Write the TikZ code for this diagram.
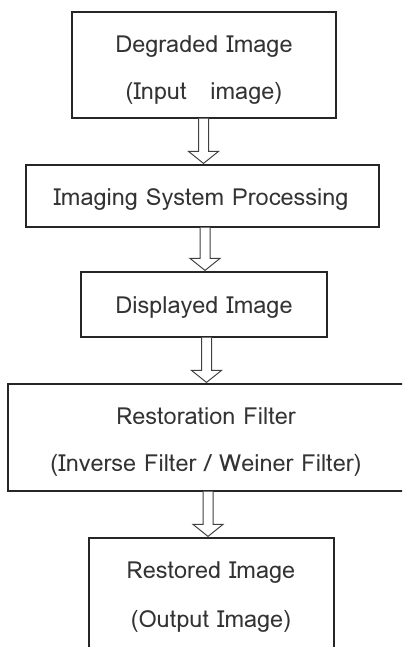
\documentclass[tikz,border=0pt]{standalone}
\usepackage{fontspec}
\newfontfamily\thaifont[Script=Thai]{Loma}
\usetikzlibrary{calc}
\begin{document}
\begin{tikzpicture}[x=1pt,y=-1pt,
  box/.style={draw=black!85, line width=1.2pt, fill=white},
  txt/.style={font=\thaifont\fontsize{23.5}{23.5}\selectfont, text=black!80, inner sep=0pt, anchor=base},
  hollow/.style={draw=black!75, line width=1pt, fill=white, line join=miter}]
\useasboundingbox (0,0) rectangle (402,647);
\clip (0,0) rectangle (402,647);
% boxes
\node[box, minimum width=264pt, minimum height=106pt, inner sep=0pt] (b1) at (204,65) {};
\node[box, minimum width=353pt, minimum height=62pt, inner sep=0pt] (b2) at (202.5,196) {};
\node[box, minimum width=246pt, minimum height=65pt, inner sep=0pt] (b3) at (204,304.5) {};
\node[box, minimum width=400pt, minimum height=107pt, inner sep=0pt] (b4) at (208,437.5) {};
\node[box, minimum width=245pt, minimum height=120pt, inner sep=0pt] (b5) at (211.5,598) {};
% texts
\node[txt] (t1a) at (204,53) {Degraded Image};
\node[txt] (t1b) at (204,100) {(Input \ \ image)};
\node[txt] (t2) at (201,205) {Imaging System Processing};
\node[txt] (t3) at (204,313) {Displayed Image};
\node[txt] (t4a) at (206,424) {Restoration Filter};
\node[txt] (t4b) at (206,471) {(Inverse Filter / Weiner Filter)};
\node[txt] (t5a) at (211,578) {Restored Image};
\node[txt] (t5b) at (211,627) {(Output Image)};
% hollow arrows
\newcommand{\hollowarrow}[3]{%
  \coordinate (ax) at (#3,0);
  \path[hollow] ($(#1.south -| ax)+(-5,0)$) -- ($(#2.north -| ax)+(-5,-13)$) -- ($(#2.north -| ax)+(-15,-13)$)
    -- ($(#2.north -| ax)+(0,-1)$) -- ($(#2.north -| ax)+(15,-13)$) -- ($(#2.north -| ax)+(5,-13)$)
    -- ($(#1.south -| ax)+(5,0)$);}
\hollowarrow{b1}{b2}{203.5}
\hollowarrow{b2}{b3}{205}
\hollowarrow{b3}{b4}{206.5}
\hollowarrow{b4}{b5}{208}
\end{tikzpicture}
\end{document}
